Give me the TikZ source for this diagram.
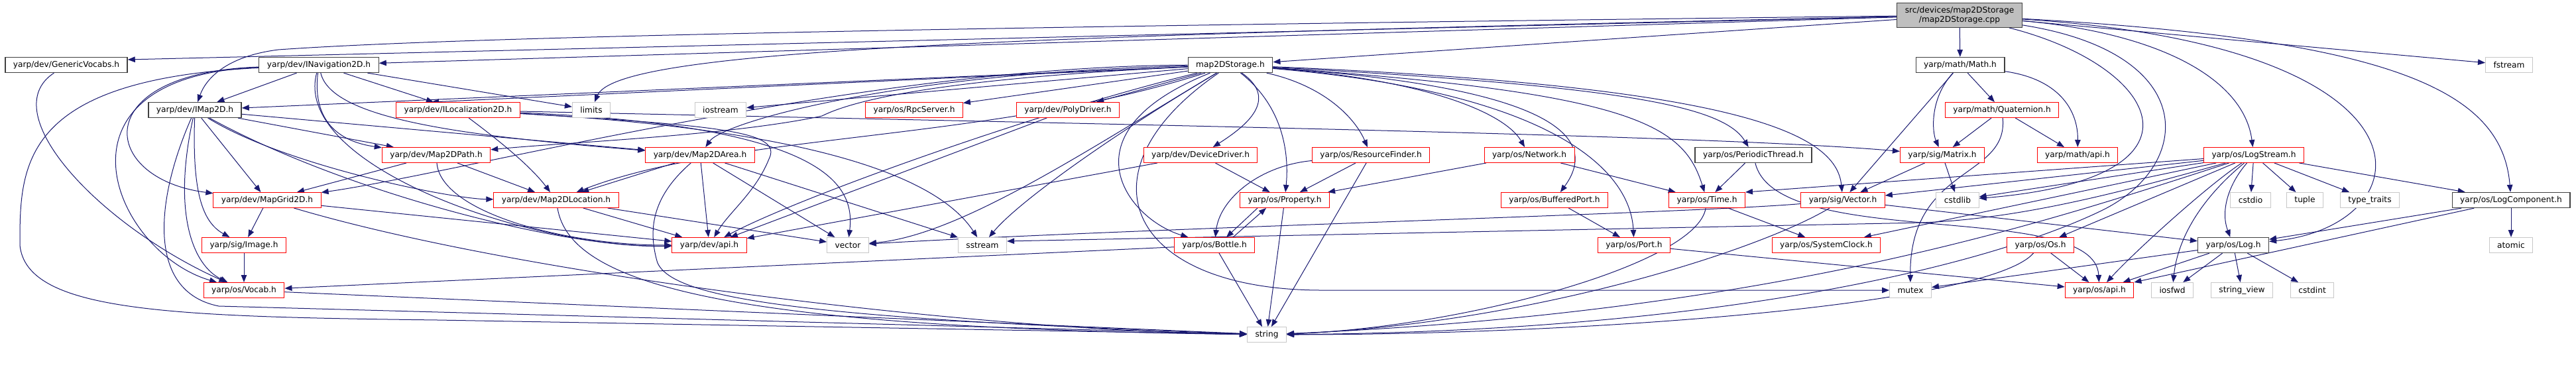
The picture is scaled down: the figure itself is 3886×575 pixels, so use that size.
\documentclass[tikz,border=0pt]{standalone}
\usepackage{fontspec}
\setmainfont{DejaVu Sans}
\usetikzlibrary{arrows.meta}
\definecolor{edgeblue}{HTML}{191970}
\definecolor{rootgrey}{HTML}{BFBFBF}
\definecolor{sysgrey}{HTML}{C8C8C8}
\pgfdeclarelayer{edges}
\pgfsetlayers{edges,main}

\begin{document}
\begin{tikzpicture}[
    x=1pt, y=1pt,
    font=\fontsize{12.2}{14.2}\selectfont,
    box/.style={rectangle, fill=white, inner xsep=12pt, inner ysep=2pt,
                minimum height=23pt, line width=1pt},
    hdr/.style={box, draw=black!75, line width=1.3pt},
    trunc/.style={box, draw=red},
    sys/.style={box, draw=sysgrey},
    root/.style={box, draw=black!75, fill=rootgrey, align=center, minimum height=37pt},
    arr/.style={-{Triangle[length=11pt,width=8.5pt]}, draw=edgeblue, line width=1pt}
]
\useasboundingbox (0,0) rectangle (3886,-575);

\node[root] (root) at (2956,-23) {src/devices/map2DStorage\\/map2DStorage.cpp};
% row 1
\node[hdr] (generic) at (100,-98) {yarp/dev/GenericVocabs.h};
\node[hdr] (inav) at (481,-98) {yarp/dev/INavigation2D.h};
\node[hdr] (storh) at (1856,-98) {map2DStorage.h};
\node[hdr] (math) at (2957,-98) {yarp/math/Math.h};
\node[sys] (fstream) at (3785,-98) {fstream};
% row 2
\node[hdr] (imap) at (294,-166) {yarp/dev/IMap2D.h};
\node[trunc] (iloc) at (691,-166) {yarp/dev/ILocalization2D.h};
\node[sys] (limits) at (892,-166) {limits};
\node[sys] (iostream) at (1087,-166) {iostream};
\node[trunc] (rpc) at (1379,-166) {yarp/os/RpcServer.h};
\node[trunc] (poly) at (1611,-166) {yarp/dev/PolyDriver.h};
\node[trunc] (quat) at (3020,-166) {yarp/math/Quaternion.h};
% row 3
\node[trunc] (path) at (658,-234) {yarp/dev/Map2DPath.h};
\node[trunc] (area) at (1056,-234) {yarp/dev/Map2DArea.h};
\node[trunc] (devdrv) at (1811,-234) {yarp/dev/DeviceDriver.h};
\node[trunc] (resfind) at (2068,-234) {yarp/os/ResourceFinder.h};
\node[trunc] (network) at (2307,-234) {yarp/os/Network.h};
\node[hdr] (pthread) at (2645,-234) {yarp/os/PeriodicThread.h};
\node[trunc] (matrix) at (2930,-234) {yarp/sig/Matrix.h};
\node[trunc] (mathapi) at (3134,-234) {yarp/math/api.h};
\node[trunc] (logstream) at (3400,-234) {yarp/os/LogStream.h};
% row 4
\node[trunc] (grid) at (403,-302) {yarp/dev/MapGrid2D.h};
\node[trunc] (loc) at (839,-302) {yarp/dev/Map2DLocation.h};
\node[trunc] (property) at (1938,-302) {yarp/os/Property.h};
\node[trunc] (bport) at (2345,-302) {yarp/os/BufferedPort.h};
\node[trunc] (time) at (2575,-302) {yarp/os/Time.h};
\node[trunc] (sigvec) at (2780,-302) {yarp/sig/Vector.h};
\node[sys] (cstdlib) at (2953,-302) {cstdlib};
\node[sys] (cstdio) at (3395,-302) {cstdio};
\node[sys] (tuple) at (3477,-302) {tuple};
\node[sys] (typetr) at (3575,-302) {type\_traits};
\node[hdr] (logcomp) at (3788,-302) {yarp/os/LogComponent.h};
% row 5
\node[trunc] (image) at (368,-370) {yarp/sig/Image.h};
\node[trunc] (devapi) at (1070,-370) {yarp/dev/api.h};
\node[sys] (vector) at (1279,-370) {vector};
\node[sys] (sstream) at (1482,-370) {sstream};
\node[trunc] (bottle) at (1832,-370) {yarp/os/Bottle.h};
\node[trunc] (port) at (2465,-370) {yarp/os/Port.h};
\node[trunc] (sysclock) at (2755,-370) {yarp/os/SystemClock.h};
\node[trunc] (osos) at (3078,-370) {yarp/os/Os.h};
\node[hdr] (log) at (3369,-370) {yarp/os/Log.h};
\node[sys] (atomic) at (3788,-370) {atomic};
% row 6
\node[trunc] (vocab) at (368,-438) {yarp/os/Vocab.h};
\node[sys] (mutex) at (2882,-438) {mutex};
\node[trunc] (osapi) at (3167,-438) {yarp/os/api.h};
\node[sys] (iosfwd) at (3277,-438) {iosfwd};
\node[sys] (strview) at (3382,-438) {string\_view};
\node[sys] (cstdint) at (3488,-438) {cstdint};
% row 7
\node[sys] (string) at (1911,-505) {string};

\begin{pgfonlayer}{edges}
% root file
\draw[arr] (root) -- ([yshift=8pt]generic.east);
\draw[arr] (root) -- (inav);
\draw[arr] (root) .. controls (1500,-40) and (700,-55) .. (420,-75) .. controls (340,-85) and (310,-120) .. (imap);
\draw[arr] (root) .. controls (1500,-55) and (930,-75) .. (limits);
\draw[arr] (root) -- (storh);
\draw[arr] (root) -- (math);
\draw[arr] (root) -- (fstream);
\draw[arr] (root) .. controls (3260,-50) and (3385,-120) .. (logstream);
\draw[arr] (root) .. controls (3620,-60) and (3775,-140) .. (logcomp);
\draw[arr] (root) .. controls (3700,-70) and (3660,-340) .. (log);
\draw[arr] (root) .. controls (3260,-100) and (3350,-270) .. (cstdlib);
\draw[arr] (root) .. controls (3320,-80) and (3310,-250) .. (3170,-318) .. controls (3000,-400) and (2600,-500) .. (string);
% GenericVocabs / INavigation2D / IMap2D
\draw[arr] (generic) .. controls (-10,-170) and (150,-340) .. (vocab);
\draw[arr] (inav) -- (imap);
\draw[arr] (inav) -- (iloc);
\draw[arr] (inav) -- (limits);
\draw[arr] (inav) .. controls (470,-190) and (520,-215) .. (path);
\draw[arr] (inav) .. controls (500,-180) and (700,-205) .. (area);
\draw[arr] (inav) .. controls (130,-110) and (150,-270) .. (grid);
\draw[arr] (inav) .. controls (60,-115) and (170,-380) .. (vocab);
\draw[arr] (inav) .. controls (30,-120) and (30,-250) .. (30,-370) .. controls (40,-470) and (250,-478) .. (660,-483) -- (string);
\draw[arr] (inav) .. controls (440,-250) and (800,-375) .. (devapi);
\draw[arr] (imap) -- (path);
\draw[arr] (imap) -- (area);
\draw[arr] (imap) -- (grid);
\draw[arr] (imap) .. controls (430,-250) and (680,-300) .. (loc);
\draw[arr] (imap) .. controls (290,-290) and (305,-335) .. (image);
\draw[arr] (imap) .. controls (260,-320) and (290,-400) .. (vocab);
\draw[arr] (imap) .. controls (520,-290) and (850,-375) .. (devapi);
\draw[arr] (imap) .. controls (235,-300) and (220,-440) .. (330,-462) -- (string);
% ILocalization2D
\draw[arr] (iloc) .. controls (750,-210) and (800,-250) .. (loc);
\draw[arr] (iloc) .. controls (1800,-190) and (2600,-205) .. (matrix);
\draw[arr] (iloc) .. controls (1100,-190) and (1180,-200) .. (1160,-240) .. controls (1140,-290) and (1100,-320) .. (devapi);
\draw[arr] (iloc) .. controls (1250,-190) and (1290,-280) .. (vector);
\draw[arr] (iloc) .. controls (1300,-200) and (1430,-290) .. (sstream);
% map types
\draw[arr] (path) -- (loc);
\draw[arr] (path) -- (grid);
\draw[arr] (path) .. controls (665,-320) and (850,-370) .. (devapi);
\draw[arr] (area) -- (loc);
\draw[arr] (area) -- (devapi);
\draw[arr] (area) -- (vector);
\draw[arr] (area) -- (sstream);
\draw[arr] (area) .. controls (980,-300) and (980,-350) .. (990,-390) .. controls (1000,-450) and (1200,-480) .. (string);
\draw[arr] (loc) -- (devapi);
\draw[arr] (loc) -- (vector);
\draw[arr] (loc) .. controls (860,-430) and (1100,-495) .. (string);
\draw[arr] (grid) -- (image);
\draw[arr] (grid) -- (devapi);
\draw[arr] (grid) .. controls (800,-420) and (1500,-500) .. (string);
\draw[arr] (image) -- (vocab);
\draw[arr] (vocab) -- (string);
% map2DStorage.h
\draw[arr] (storh) -- (imap);
\draw[arr] (storh) -- ([xshift=-40pt]iloc.north);
\draw[arr] (storh) .. controls (1600,-110) and (1330,-130) .. (1240,-175) .. controls (1100,-205) and (850,-215) .. (path);
\draw[arr] (storh) .. controls (1350,-110) and (1090,-185) .. (area);
\draw[arr] (storh) .. controls (1490,-215) and (1100,-200) .. (loc);
\draw[arr] (storh) .. controls (1300,-100) and (700,-260) .. (grid);
\draw[arr] (storh) -- (iostream);
\draw[arr] (storh) -- (rpc);
\draw[arr] (storh) -- (poly);
\draw[arr] (storh) .. controls (1930,-150) and (1880,-190) .. (devdrv);
\draw[arr] (storh) .. controls (1600,-200) and (1700,-330) .. (bottle);
\draw[arr] (storh) .. controls (1935,-160) and (1945,-230) .. (property);
\draw[arr] (storh) .. controls (2000,-130) and (2045,-180) .. (resfind);
\draw[arr] (storh) .. controls (2150,-120) and (2270,-170) .. (network);
\draw[arr] (storh) .. controls (2320,-130) and (2420,-200) .. (bport);
\draw[arr] (storh) .. controls (2350,-140) and (2460,-260) .. (port);
\draw[arr] (storh) .. controls (2470,-140) and (2540,-190) .. (time);
\draw[arr] (storh) .. controls (2450,-130) and (2600,-160) .. (pthread);
\draw[arr] (storh) .. controls (2620,-130) and (2770,-200) .. (sigvec);
\draw[arr] (storh) .. controls (1620,-260) and (1700,-440) .. (2000,-438) -- (mutex);
\draw[arr] (storh) .. controls (1650,-220) and (1450,-355) .. (vector);
\draw[arr] (storh) .. controls (1700,-190) and (1540,-300) .. (sstream);
\draw[arr] (storh) .. controls (1560,-170) and (1200,-300) .. (devapi);
% math
\draw[arr] (math) -- (sigvec);
\draw[arr] (math) .. controls (2910,-150) and (2915,-200) .. (matrix);
\draw[arr] (math) -- (quat);
\draw[arr] (math) .. controls (3110,-120) and (3135,-170) .. (mathapi);
\draw[arr] (quat) -- (matrix);
\draw[arr] (quat) -- (mathapi);
\draw[arr] (quat) .. controls (3030,-270) and (2880,-250) .. (mutex);
\draw[arr] (matrix) -- (sigvec);
\draw[arr] (matrix) -- (cstdlib);
\draw[arr] (sigvec) .. controls (2650,-380) and (2300,-490) .. (string);
\draw[arr] (sigvec) -- (log);
\draw[arr] (sigvec) .. controls (2550,-322) and (1700,-345) .. (vector);
% os
\draw[arr] (time) -- (sysclock);
\draw[arr] (time) .. controls (2560,-400) and (2200,-495) .. (string);
\draw[arr] (pthread) -- (time);
\draw[arr] (pthread) .. controls (2680,-380) and (3160,-300) .. (osapi);
\draw[arr] (network) -- (property);
\draw[arr] (network) -- (time);
\draw[arr] (resfind) -- (property);
\draw[arr] (resfind) -- (string);
\draw[arr] (resfind) .. controls (1900,-250) and (1840,-300) .. (bottle);
\draw[arr] (devdrv) -- (property);
\draw[arr] (devdrv) -- (devapi);
\draw[arr] (poly) -- (devapi);
\draw[arr] (bport) -- (port);
\draw[arr] (port) -- (osapi);
\draw[arr] ([xshift=-41pt]property.south) -- ([xshift=18pt]bottle.north);
\draw[arr] ([xshift=28pt]bottle.north) -- ([xshift=-28pt]property.south);
\draw[arr] (property) -- (string);
\draw[arr] (bottle) -- (string);
\draw[arr] (bottle) -- (vocab);
\draw[arr] (osos) -- (osapi);
\draw[arr] (osos) .. controls (3000,-460) and (2400,-505) .. (string);
% log
\draw[arr] (log) -- (osapi);
\draw[arr] (log) -- (iosfwd);
\draw[arr] (log) -- (strview);
\draw[arr] (log) -- (cstdint);
\draw[arr] (log) -- (mutex);
\draw[arr] (logcomp) -- (log);
\draw[arr] (logcomp) -- (atomic);
\draw[arr] (logcomp) -- (osapi.north east);
\draw[arr] (logstream) -- (cstdio);
\draw[arr] (logstream) -- (tuple);
\draw[arr] (logstream) -- (typetr);
\draw[arr] (logstream) -- (logcomp);
\draw[arr] (logstream) .. controls (3360,-280) and (3350,-320) .. (log);
\draw[arr] (logstream) .. controls (3320,-300) and (3285,-360) .. (iosfwd);
\draw[arr] (logstream) .. controls (3330,-280) and (3220,-380) .. (osapi);
\draw[arr] (logstream) -- (time.north east);
\draw[arr] (logstream) -- (sigvec);
\draw[arr] (logstream) -- (cstdlib);
\draw[arr] (logstream) -- (sysclock);
\draw[arr] (logstream) -- (osos);
\draw[arr] (logstream) .. controls (3200,-290) and (3050,-330) .. (2900,-336) -- ([yshift=6pt]sstream.east);
\draw[arr] (logstream) .. controls (3100,-330) and (2700,-470) .. (string);
\end{pgfonlayer}
\end{tikzpicture}
\end{document}
